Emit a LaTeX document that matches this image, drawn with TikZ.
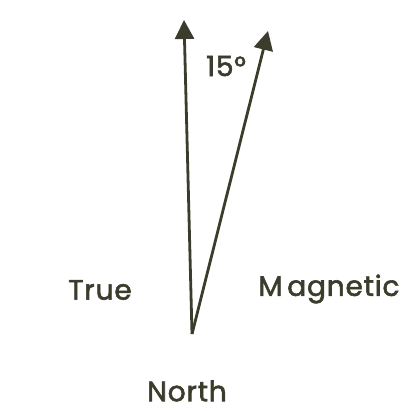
\documentclass[tikz,border=0pt]{standalone}
\usepackage{fontspec}
\setmainfont{Poppins}
\newfontfamily\lblfont{Poppins}[FakeBold=2,LetterSpace=3]
\usetikzlibrary{arrows.meta}
\definecolor{ink}{HTML}{3C3C2C}
\begin{document}
\begin{tikzpicture}[x=1pt,y=-1pt,
  vec/.style={draw=ink,line width=2.8pt,-{Triangle[length=19pt,width=19pt]}},
  lbl/.style={text=ink,font=\lblfont\fontsize{28}{30}\selectfont,inner sep=0pt}]
\useasboundingbox (0,0) rectangle (414,411);
\coordinate (O) at (192,334);
\coordinate (T) at (184,20);
\coordinate (M) at (268,31);
\draw[vec] (O) -- (T);
\draw[vec] (O) -- (M);
\node[lbl] (ang) at (226,66) {15°};
\node[lbl] (true) at (100,290) {True};
\node[lbl] (mag) at (329,289) {M\,agnetic};
\node[lbl] (north) at (187,391) {North};
\end{tikzpicture}
\end{document}
